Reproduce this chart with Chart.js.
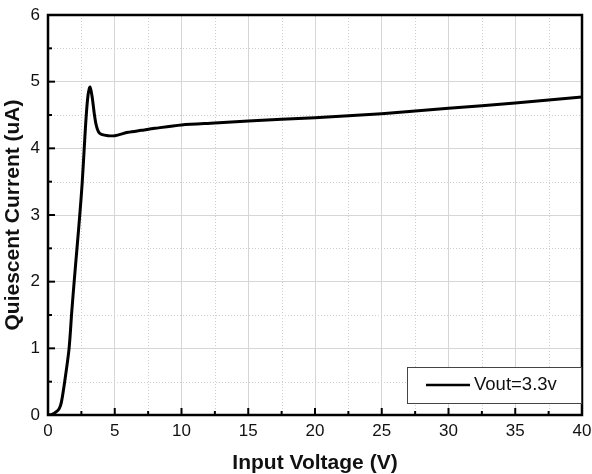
<!DOCTYPE html>
<html>
<head>
<meta charset="utf-8">
<script src="https://cdn.jsdelivr.net/npm/chart.js@4/dist/chart.umd.min.js"></script>
<style>
  html, body { margin: 0; padding: 0; background: #fff; }
  #wrap { width: 592px; height: 474px; }
</style>
</head>
<body>
<div id="wrap"><canvas id="chart"></canvas></div>
<script>
// input voltage (V) and quiescent current (uA)
const inputVoltage = [0, 0.3, 0.63, 0.85, 1.0, 1.25, 1.58, 1.78, 1.98, 2.18, 2.4, 2.55, 2.7, 2.85, 3.0, 3.15, 3.3, 3.48, 3.62, 3.8, 4.0, 4.5, 5, 6, 7, 8, 10, 12.5, 15, 20, 25, 30, 35, 40];
const quiescentCurrent = [0, 0.01, 0.05, 0.1, 0.19, 0.5, 1.0, 1.55, 2.05, 2.52, 3.05, 3.45, 3.95, 4.45, 4.8, 4.92, 4.78, 4.5, 4.34, 4.24, 4.21, 4.19, 4.19, 4.24, 4.27, 4.3, 4.35, 4.38, 4.41, 4.46, 4.52, 4.6, 4.68, 4.77];
const seriesLabel = "Vout=3.3v";

const xMinorTicks = [2.5, 7.5, 12.5, 17.5, 22.5, 27.5, 32.5, 37.5];
const xMajorTicks = [5, 10, 15, 20, 25, 30, 35];
const yMinorTicks = [0.5, 1.5, 2.5, 3.5, 4.5, 5.5];
const yMajorTicks = [1, 2, 3, 4, 5];

const points = inputVoltage.map((v, i) => ({ x: v, y: quiescentCurrent[i] }));
const fontFamily = "'Liberation Sans', Arial, sans-serif";

// minor dotted grid, inward ticks, box frame and legend
const framePlugin = {
  id: "frame",
  beforeDatasetsDraw(chart) {
    const { ctx, chartArea: a, scales } = chart;
    ctx.save();
    ctx.strokeStyle = "#cfcfcf";
    ctx.lineWidth = 1;
    ctx.setLineDash([1, 2]);
    xMinorTicks.forEach((v) => {
      const px = Math.round(scales.x.getPixelForValue(v)) + 0.5;
      ctx.beginPath();
      ctx.moveTo(px, a.top);
      ctx.lineTo(px, a.bottom);
      ctx.stroke();
    });
    yMinorTicks.forEach((v) => {
      const py = Math.round(scales.y.getPixelForValue(v)) + 0.5;
      ctx.beginPath();
      ctx.moveTo(a.left, py);
      ctx.lineTo(a.right, py);
      ctx.stroke();
    });
    ctx.restore();
  },
  afterDatasetsDraw(chart) {
    const { ctx, chartArea: a, scales } = chart;
    ctx.save();
    ctx.strokeStyle = "#000";
    ctx.lineWidth = 2;
    ctx.setLineDash([]);
    // ticks pointing inside
    xMajorTicks.forEach((v) => {
      const px = scales.x.getPixelForValue(v);
      ctx.beginPath(); ctx.moveTo(px, a.bottom); ctx.lineTo(px, a.bottom - 7); ctx.stroke();
    });
    xMinorTicks.forEach((v) => {
      const px = scales.x.getPixelForValue(v);
      ctx.beginPath(); ctx.moveTo(px, a.bottom); ctx.lineTo(px, a.bottom - 4); ctx.stroke();
    });
    yMajorTicks.forEach((v) => {
      const py = scales.y.getPixelForValue(v);
      ctx.beginPath(); ctx.moveTo(a.left, py); ctx.lineTo(a.left + 7, py); ctx.stroke();
    });
    yMinorTicks.forEach((v) => {
      const py = scales.y.getPixelForValue(v);
      ctx.beginPath(); ctx.moveTo(a.left, py); ctx.lineTo(a.left + 4, py); ctx.stroke();
    });
    ctx.lineWidth = 2.5;
    ctx.strokeRect(a.left, a.top, a.right - a.left, a.bottom - a.top);

    // legend box, bottom right
    const bx = a.right - 175, by = a.bottom - 48, bw = 175, bh = 37;
    ctx.fillStyle = "#fff";
    ctx.fillRect(bx, by, bw, bh);
    ctx.lineWidth = 1;
    ctx.strokeStyle = "#444";
    ctx.strokeRect(bx + 0.5, by + 0.5, bw - 1, bh - 1);
    ctx.lineWidth = 2.5;
    ctx.strokeStyle = "#000";
    ctx.beginPath();
    ctx.moveTo(bx + 19, by + 18);
    ctx.lineTo(bx + 63, by + 18);
    ctx.stroke();
    ctx.fillStyle = "#111";
    ctx.font = "18.5px " + fontFamily;
    ctx.textBaseline = "middle";
    ctx.fillText(seriesLabel, bx + 67, by + 18);
    ctx.restore();
  },
};

const ctx = document.getElementById("chart").getContext("2d");
new Chart(ctx, {
  type: "scatter",
  data: {
    datasets: [
      {
        label: seriesLabel,
        data: points,
        showLine: true,
        borderColor: "#000",
        borderWidth: 3,
        pointRadius: 0,
        tension: 0.3,
        fill: false,
      },
    ],
  },
  options: {
    responsive: true,
    maintainAspectRatio: false,
    animation: false,
    layout: { padding: { top: 15, right: 10, left: 0, bottom: 0 } },
    plugins: {
      legend: { display: false },
      tooltip: { enabled: false },
    },
    scales: {
      x: {
        type: "linear",
        min: 0,
        max: 40,
        afterFit: (s) => {
          s.height = 59;
          s.paddingLeft = 0;
          s.paddingRight = 0;
        },
        ticks: {
          stepSize: 5,
          padding: 6,
          color: "#111",
          font: { family: fontFamily, size: 17 },
        },
        grid: { color: "#d6d6d6", lineWidth: 1, drawTicks: false },
        border: { display: false },
        title: {
          display: true,
          text: "Input Voltage (V)",
          color: "#111",
          font: { family: fontFamily, size: 21, weight: "bold", lineHeight: 1 },
          padding: { top: 0, bottom: 0 },
        },
      },
      y: {
        type: "linear",
        min: 0,
        max: 6,
        afterFit: (s) => {
          s.width = 48;
          s.paddingTop = 0;
          s.paddingBottom = 0;
        },
        ticks: {
          stepSize: 1,
          padding: 8,
          color: "#111",
          font: { family: fontFamily, size: 17 },
        },
        grid: { color: "#d6d6d6", lineWidth: 1, drawTicks: false },
        border: { display: false },
        title: {
          display: true,
          text: "Quiescent Current (uA)",
          color: "#111",
          font: { family: fontFamily, size: 21, weight: "bold", lineHeight: 1 },
          padding: { top: 3, bottom: 0 },
        },
      },
    },
  },
  plugins: [framePlugin],
});
</script>
</body>
</html>
